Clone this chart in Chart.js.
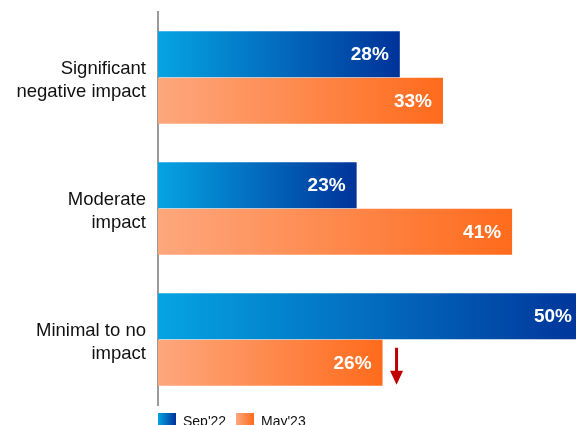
<!DOCTYPE html>
<html>
<head>
<meta charset="utf-8">
<script src="https://cdn.jsdelivr.net/npm/chart.js@4/dist/chart.umd.min.js"></script>
<style>
  html, body { margin: 0; padding: 0; background: #fff; overflow: hidden; }
  #wrap { width: 576px; height: 440px; }
</style>
</head>
<body>
<div id="wrap"><canvas id="barChart" width="576" height="440"></canvas></div>
<script>
// survey answers, share of respondents (%)
var categories = [['Significant', 'negative impact'], ['Moderate', 'impact'], ['Minimal to no', 'impact']];
var seriesNames = ["Sep'22", "May'23"];
var sep22 = [28, 23, 50];
var may23 = [33, 41, 26];

var blueStops = ['#05a4e2', '#003399'];
var orangeStops = ['#fda77d', '#ff6b1c'];

function barGradient(stops) {
    return function (ctx) {
        var chart = ctx.chart;
        if (!chart.chartArea || ctx.raw === undefined) return stops[1];
        var x = chart.scales.x;
        var g = chart.ctx.createLinearGradient(x.getPixelForValue(0), 0, x.getPixelForValue(ctx.raw), 0);
        g.addColorStop(0, stops[0]);
        g.addColorStop(1, stops[1]);
        return g;
    };
}

// white value text at the right end of each bar, plus the drop arrow
var valueLabels = {
    id: 'valueLabels',
    afterDatasetsDraw: function (chart) {
        var c = chart.ctx;
        var area = chart.chartArea;
        c.save();
        c.font = 'bold 19px "Liberation Sans", Arial, sans-serif';
        c.fillStyle = '#ffffff';
        c.textAlign = 'right';
        c.textBaseline = 'middle';
        chart.data.datasets.forEach(function (ds, i) {
            chart.getDatasetMeta(i).data.forEach(function (bar, j) {
                var x = Math.min(bar.x - 11, area.right - 4);
                c.fillText(ds.data[j] + '%', x, bar.y + 1);
            });
        });
        // red arrow next to the May'23 "Minimal to no impact" bar
        var b = chart.getDatasetMeta(1).data[2];
        var ax = b.x + 14;
        c.fillStyle = '#c00000';
        c.fillRect(ax - 1.5, b.y - 15, 3, 25);
        c.beginPath();
        c.moveTo(ax - 6.5, b.y + 8);
        c.lineTo(ax + 6.5, b.y + 8);
        c.lineTo(ax, b.y + 22);
        c.closePath();
        c.fill();
        c.restore();
    }
};

// legend drawn under the plot, starting at the axis line
var bottomLegend = {
    id: 'bottomLegend',
    afterDraw: function (chart) {
        var c = chart.ctx;
        var left = chart.chartArea.left;
        var y = 413;
        var items = [
            { text: seriesNames[0], stops: blueStops, x: left },
            { text: seriesNames[1], stops: orangeStops, x: left + 78 }
        ];
        c.save();
        c.font = '14px "Liberation Sans", Arial, sans-serif';
        c.textBaseline = 'top';
        items.forEach(function (it) {
            var g = c.createLinearGradient(it.x, 0, it.x + 18, 0);
            g.addColorStop(0, it.stops[0]);
            g.addColorStop(1, it.stops[1]);
            c.fillStyle = g;
            c.fillRect(it.x, y, 18, 14);
            c.fillStyle = '#111';
            c.fillText(it.text, it.x + 25, y + 2);
        });
        c.restore();
    }
};

var barCtx = document.getElementById('barChart').getContext('2d');

new Chart(barCtx, {
    type: 'bar',
    data: {
        labels: categories,
        datasets: [{
            label: seriesNames[0],
            data: sep22,
            backgroundColor: barGradient(blueStops),
            categoryPercentage: 0.71,
            barPercentage: 0.99
        }, {
            label: seriesNames[1],
            data: may23,
            backgroundColor: barGradient(orangeStops),
            categoryPercentage: 0.71,
            barPercentage: 0.99
        }]
    },
    options: {
        indexAxis: 'y',
        responsive: false,
        animation: false,
        layout: { padding: { top: 12, bottom: 35, right: 0, left: 0 } },
        scales: {
            x: {
                display: false,
                min: 0,
                max: 48.4
            },
            y: {
                afterFit: function (scale) {
                    scale.width = 158;
                    scale.paddingTop = 0;
                    scale.paddingBottom = 0;
                },
                grid: { display: false, drawTicks: false },
                border: { display: true, color: '#9a9a9a', width: 2 },
                ticks: {
                    padding: 12,
                    labelOffset: 3,
                    color: '#111',
                    font: { family: '"Liberation Sans", Arial, sans-serif', size: 18.5, lineHeight: 1.2 }
                }
            }
        },
        plugins: {
            legend: { display: false },
            tooltip: { enabled: false }
        }
    },
    plugins: [valueLabels, bottomLegend]
});
</script>
</body>
</html>
